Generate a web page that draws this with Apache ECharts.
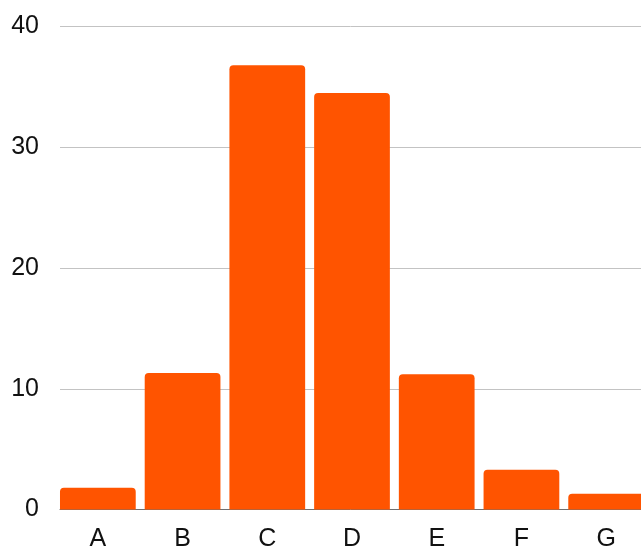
<!DOCTYPE html>
<html>
<head>
<meta charset="utf-8">
<script src="https://cdn.jsdelivr.net/npm/echarts@6/dist/echarts.min.js"></script>
<style>
  html, body { margin: 0; padding: 0; background: #fff; }
  #chart { width: 641px; height: 547px; }
</style>
</head>
<body>
<div id="chart"></div>
<script>
// Category names and bar heights
const categories = ['A', 'B', 'C', 'D', 'E', 'F', 'G'];
const values = [1.8, 11.3, 36.8, 34.5, 11.2, 3.3, 1.3];
// Value-axis ticks
const yMin = 0;
const yMax = 40;
const yStep = 10;

const labelFont = { fontFamily: '"Liberation Sans", Arial, sans-serif', fontSize: 25, color: '#111' };

const chart = echarts.init(document.getElementById('chart'), null, { renderer: 'canvas' });

chart.setOption({
  animation: false,
  backgroundColor: '#ffffff',
  grid: [
    // grid 0: gridlines, value labels and baseline
    { left: 60, top: 26.5, width: 581, height: 483, containLabel: false, outerBoundsMode: 'none' },
    // grid 1: bars and category labels (runs a little past the right edge)
    { left: 55.5, top: 26.5, width: 593, height: 483, containLabel: false, outerBoundsMode: 'none' }
  ],
  xAxis: [
    {
      gridIndex: 0, type: 'value', min: 0, max: 1,
      axisLine: { show: true, lineStyle: { color: '#707070', width: 1 } },
      axisTick: { show: false }, axisLabel: { show: false }, splitLine: { show: false }
    },
    {
      gridIndex: 1, type: 'category', data: categories,
      axisLine: { show: false }, axisTick: { show: false },
      axisLabel: Object.assign({ margin: 17, interval: 0 }, labelFont),
      splitLine: { show: false }
    }
  ],
  yAxis: [
    {
      gridIndex: 0, type: 'value', min: yMin, max: yMax, interval: yStep,
      axisLine: { show: false }, axisTick: { show: false },
      axisLabel: Object.assign({ margin: 21, padding: [2, 0, 0, 0] }, labelFont),
      splitLine: { show: true, lineStyle: { color: '#c3c3c3', width: 1 } }
    },
    {
      gridIndex: 1, type: 'value', min: yMin, max: yMax, interval: yStep, show: false,
      splitLine: { show: false }
    }
  ],
  series: [{
    type: 'bar',
    xAxisIndex: 1,
    yAxisIndex: 1,
    data: values,
    barCategoryGap: '10.6%',
    z: 3,
    itemStyle: { color: '#ff5400', borderRadius: [4, 4, 0, 0] }
  }]
});
</script>
</body>
</html>
